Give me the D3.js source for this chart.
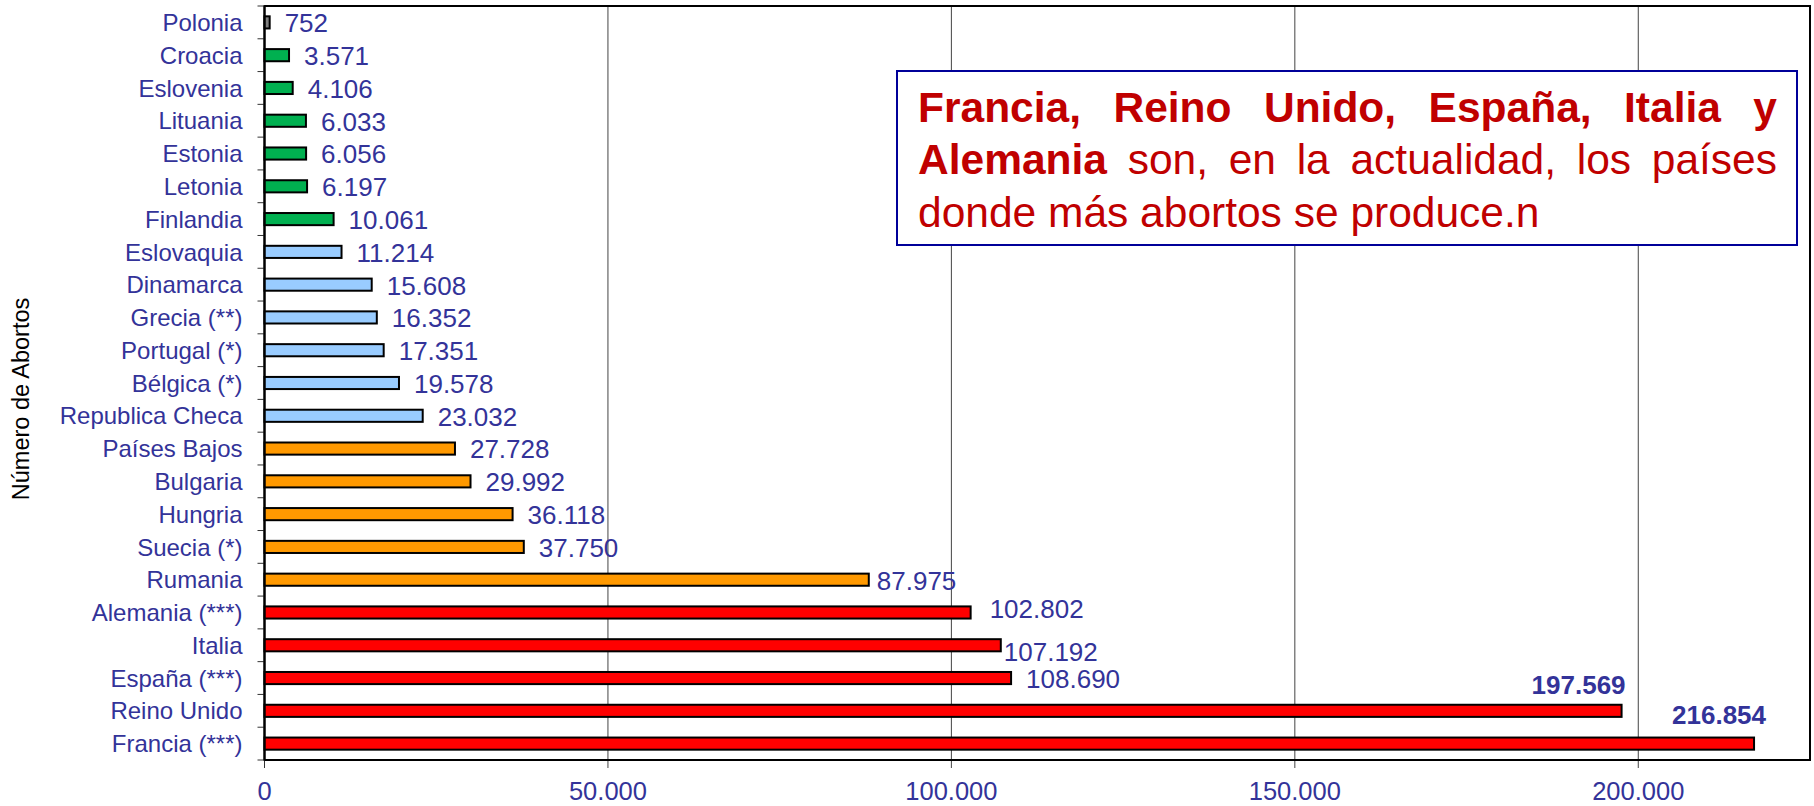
<!DOCTYPE html>
<html>
<head>
<meta charset="UTF-8">
<title>Número de abortos por país</title>
<script src="https://cdn.jsdelivr.net/npm/d3@7"></script>
<style>
  body { margin: 0; background: #fff; }
  svg { display: block; font-family: "Liberation Sans", Arial, sans-serif; }
  .grid line { stroke: #444; stroke-width: 1; }
  .bar { stroke: #000; stroke-width: 2; }
  .cat { fill: #333399; font-size: 24px; }
  .val { fill: #333399; font-size: 26px; }
  .val.bold { font-weight: bold; }
  .xlab { fill: #333399; font-size: 25.5px; }
  .ytitle { fill: #000; font-size: 23.5px; }
  .note { fill: #c00000; font-size: 42.5px; }
  .note.bold { font-weight: bold; }
</style>
</head>
<body>
<svg id="chart" width="1814" height="806"></svg>
<script>
// datos
const paises = ['Polonia', 'Croacia', 'Eslovenia', 'Lituania', 'Estonia', 'Letonia', 'Finlandia',
  'Eslovaquia', 'Dinamarca', 'Grecia (**)', 'Portugal (*)', 'Bélgica (*)', 'Republica Checa',
  'Países Bajos', 'Bulgaria', 'Hungria', 'Suecia (*)', 'Rumania', 'Alemania (***)', 'Italia',
  'España (***)', 'Reino Unido', 'Francia (***)'];
const abortos = [752, 3571, 4106, 6033, 6056, 6197, 10061, 11214, 15608, 16352, 17351, 19578, 23032,
  27728, 29992, 36118, 37750, 87975, 102802, 107192, 108690, 197569, 216854];
const grupos = ['g0', 'g1', 'g1', 'g1', 'g1', 'g1', 'g1', 'g2', 'g2', 'g2', 'g2', 'g2', 'g2',
  'g3', 'g3', 'g3', 'g3', 'g3', 'g4', 'g4', 'g4', 'g4', 'g4'];
const xTicks = [0, 50000, 100000, 150000, 200000];
const xMax = 225000;
const tituloY = 'Número de Abortos';
const nota = [
  [['Francia,', 1], ['Reino', 1], ['Unido,', 1], ['España,', 1], ['Italia', 1], ['y', 1]],
  [['Alemania', 1], ['son,', 0], ['en', 0], ['la', 0], ['actualidad,', 0], ['los', 0], ['países', 0]],
  [['donde', 0], ['más', 0], ['abortos', 0], ['se', 0], ['produce.n', 0]]
];

const colores = { g0: '#808080', g1: '#00b050', g2: '#99ccff', g3: '#ff9900', g4: '#ff0000' };

// ajustes manuales de etiquetas (como en el original)
const ajustes = {
  'Rumania': { dx: -7, dy: 0 },
  'Alemania (***)': { dx: 4, dy: -4 },
  'Italia': { dx: -12, dy: 6 },
  'Reino Unido': { dx: 4, dy: -27, end: true },
  'Francia (***)': { dx: 12, dy: -29, end: true }
};

const fmt = d3.formatLocale({ decimal: ',', thousands: '.', grouping: [3], currency: ['', ''] }).format(',d');

const mLeft = 264.5, mTop = 6, mBottom = 760, mRight = 1810;
const svg = d3.select('#chart');

const x = d3.scaleLinear().domain([0, xMax]).range([mLeft, mRight]);
const y = d3.scaleBand().domain(paises).range([mTop, mBottom]).padding(0);
const barH = y.bandwidth() * 0.37;

const rows = paises.map((p, i) => ({ pais: p, valor: abortos[i], grupo: grupos[i] }));

// rejilla vertical
svg.append('g').attr('class', 'grid')
  .selectAll('line').data(xTicks.slice(1)).join('line')
  .attr('x1', d => x(d)).attr('x2', d => x(d))
  .attr('y1', mTop).attr('y2', mBottom + 8);

// eje x
const xAxis = svg.append('g');
xAxis.selectAll('line').data(xTicks.slice(0, 1)).join('line')
  .attr('x1', d => x(d)).attr('x2', d => x(d))
  .attr('y1', mBottom).attr('y2', mBottom + 8)
  .attr('stroke', '#333').attr('stroke-width', 1);
xAxis.selectAll('text').data(xTicks).join('text')
  .attr('class', 'xlab')
  .attr('x', d => x(d)).attr('y', 799.5)
  .attr('text-anchor', 'middle')
  .text(d => fmt(d));

// marco del área de trazado
svg.append('rect')
  .attr('x', mLeft).attr('y', mTop)
  .attr('width', mRight - mLeft).attr('height', mBottom - mTop)
  .attr('fill', 'none').attr('stroke', '#000').attr('stroke-width', 2);

// marcas del eje y entre categorías
const bounds = paises.map(p => y(p)).concat([mBottom]);
svg.append('g').selectAll('line').data(bounds).join('line')
  .attr('x1', mLeft - 7).attr('x2', mLeft)
  .attr('y1', d => d).attr('y2', d => d)
  .attr('stroke', '#333').attr('stroke-width', 1);

// barras
svg.append('g').selectAll('rect').data(rows).join('rect')
  .attr('class', 'bar')
  .attr('x', x(0))
  .attr('y', d => y(d.pais) + (y.bandwidth() - barH) / 2)
  .attr('width', d => x(d.valor) - x(0))
  .attr('height', barH)
  .attr('fill', d => colores[d.grupo]);

// eje y línea
svg.append('line')
  .attr('x1', mLeft).attr('x2', mLeft).attr('y1', mTop).attr('y2', mBottom)
  .attr('stroke', '#000').attr('stroke-width', 2);

// etiquetas de categoría
svg.append('g').selectAll('text').data(rows).join('text')
  .attr('class', 'cat')
  .attr('x', mLeft - 22)
  .attr('y', d => y(d.pais) + y.bandwidth() / 2)
  .attr('dy', '0.36em')
  .attr('text-anchor', 'end')
  .text(d => d.pais);

// etiquetas de valor
svg.append('g').selectAll('text').data(rows).join('text')
  .attr('class', d => ajustes[d.pais] && ajustes[d.pais].end ? 'val bold' : 'val')
  .attr('x', d => {
    const a = ajustes[d.pais];
    if (a && a.end) return x(d.valor) + a.dx;
    return x(d.valor) + 15 + (a ? a.dx : 0);
  })
  .attr('y', d => y(d.pais) + y.bandwidth() / 2 + (ajustes[d.pais] ? ajustes[d.pais].dy : 0))
  .attr('dy', '0.38em')
  .attr('text-anchor', d => ajustes[d.pais] && ajustes[d.pais].end ? 'end' : 'start')
  .text(d => fmt(d.valor));

// título eje y
svg.append('text')
  .attr('class', 'ytitle')
  .attr('transform', 'translate(29,399) rotate(-90)')
  .attr('text-anchor', 'middle')
  .text(tituloY);

// cuadro de texto
const box = { x0: 897, y0: 71, x1: 1797, y1: 245 };
svg.append('rect')
  .attr('x', box.x0).attr('y', box.y0)
  .attr('width', box.x1 - box.x0).attr('height', box.y1 - box.y0)
  .attr('fill', '#fff').attr('stroke', '#000099').attr('stroke-width', 2);

const tx0 = 918, tx1 = 1777;
const baselines = [122, 174, 227];
const gNote = svg.append('g');
nota.forEach((line, li) => {
  const words = line.map(([t, b]) => {
    const el = gNote.append('text')
      .attr('class', b ? 'note bold' : 'note')
      .attr('y', baselines[li])
      .text(t);
    return { el, w: el.node().getComputedTextLength() };
  });
  const total = d3.sum(words, w => w.w);
  const justify = li < nota.length - 1;
  const gap = justify ? (tx1 - tx0 - total) / (words.length - 1) : 42.5 * 0.278;
  let cx = tx0;
  words.forEach(w => {
    w.el.attr('x', cx);
    cx += w.w + gap;
  });
});
</script>
</body>
</html>
